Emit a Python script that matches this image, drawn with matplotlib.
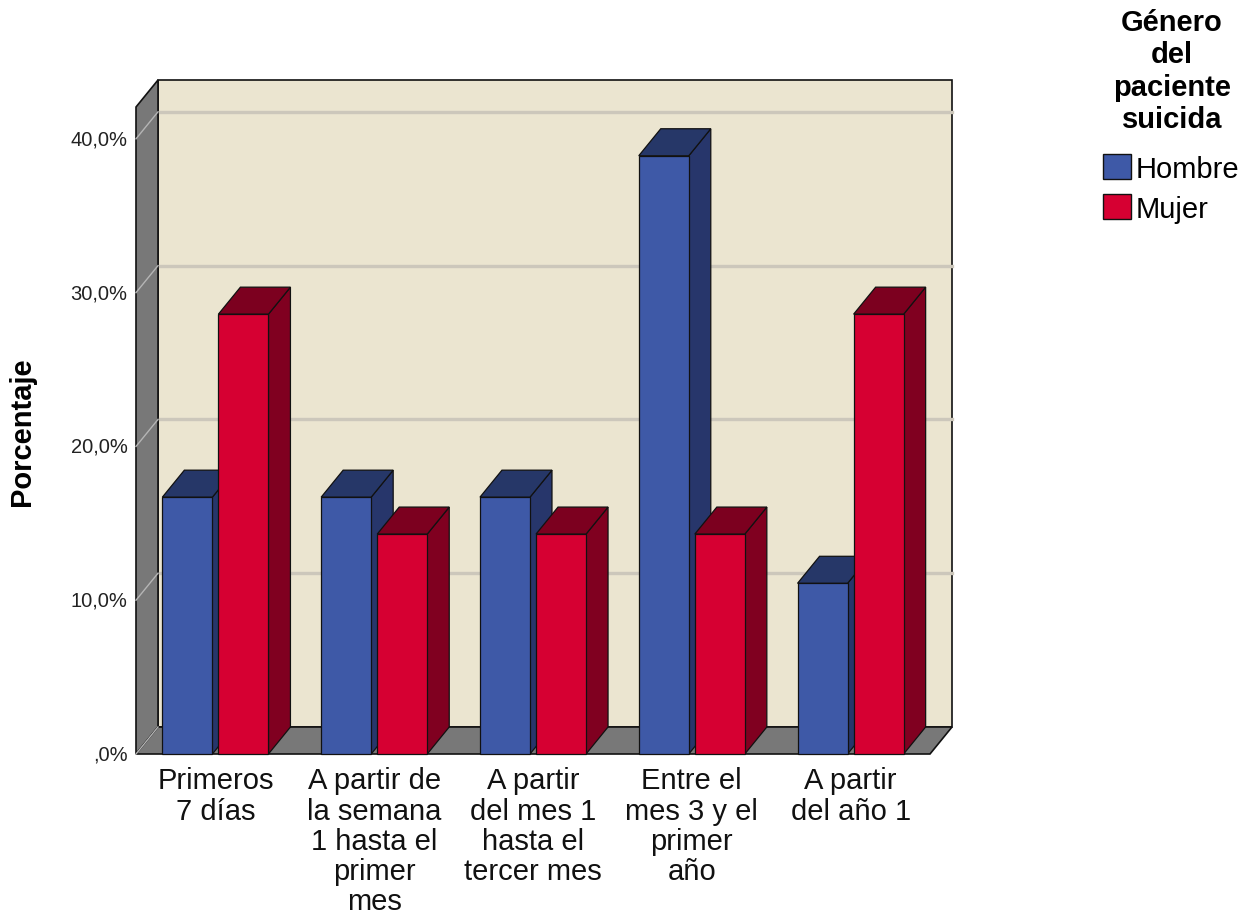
import matplotlib.pyplot as plt
from matplotlib.patches import Polygon, Patch

# data (percent within each gender)
categorias = ["Primeros\n7 días",
              "A partir de\nla semana\n1 hasta el\nprimer\nmes",
              "A partir\ndel mes 1\nhasta el\ntercer mes",
              "Entre el\nmes 3 y el\nprimer\naño",
              "A partir\ndel año 1"]
hombre = [16.7, 16.7, 16.7, 38.9, 11.1]
mujer = [28.6, 14.3, 14.3, 14.3, 28.6]
series = ["Hombre", "Mujer"]
yticks = [0, 10, 20, 30, 40]
ytick_labels = [",0%", "10,0%", "20,0%", "30,0%", "40,0%"]

# colours: front face, side face, top face
colores = {"Hombre": ("#3e59a7", "#27366b", "#263768"),
           "Mujer": ("#d60032", "#800020", "#7c001f")}

plt.rcParams['font.family'] = ['Liberation Sans', 'DejaVu Sans']

fig = plt.figure(figsize=(12.53, 9.2), dpi=100)
ax = fig.add_axes([136 / 1253, 165 / 920, 794 / 1253, 647 / 920])
ymax = 42.07
ax.set_xlim(-0.5, 4.5)
ax.set_ylim(0, ymax)
ax.axis('off')

# oblique depth in data units
dx = 22 / (794 / 5)
dy = 27 / (647 / ymax)
x0, x1 = -0.5, 4.5

# back wall
ax.add_patch(Polygon([(x0 + dx, dy), (x1 + dx, dy), (x1 + dx, ymax + dy), (x0 + dx, ymax + dy)],
                     facecolor="#ebe5d0", edgecolor="#111111", lw=1.2, zorder=1, clip_on=False))
for t in yticks[1:]:
    ax.plot([x0 + dx, x1 + dx], [t + dy, t + dy], color="#ccc7bb", lw=2.4, zorder=2, clip_on=False)

# side wall and floor
ax.add_patch(Polygon([(x0, 0), (x0 + dx, dy), (x0 + dx, ymax + dy), (x0, ymax)],
                     facecolor="#787878", edgecolor="#111111", lw=1.2, zorder=3, clip_on=False))
ax.add_patch(Polygon([(x0, 0), (x1, 0), (x1 + dx, dy), (x0 + dx, dy)],
                     facecolor="#787878", edgecolor="#111111", lw=1.2, zorder=3, clip_on=False))
for t in yticks:
    ax.plot([x0, x0 + dx], [t, t + dy], color="#b5b5b5", lw=1, zorder=4, clip_on=False)

# bars
w = 0.315
gap = 0.019
z = 5
for i in range(len(categorias)):
    for j, (nombre, vals) in enumerate(zip(series, [hombre, mujer])):
        v = vals[i]
        left = i - gap - w if j == 0 else i + gap
        front, side, top = colores[nombre]
        kw = dict(edgecolor="#111111", lw=0.9, zorder=z, clip_on=False)
        ax.add_patch(Polygon([(left + w, 0), (left + w + dx, dy), (left + w + dx, v + dy), (left + w, v)],
                             facecolor=side, **kw))
        ax.add_patch(Polygon([(left, v), (left + w, v), (left + w + dx, v + dy), (left + dx, v + dy)],
                             facecolor=top, **kw))
        ax.add_patch(Polygon([(left, 0), (left + w, 0), (left + w, v), (left, v)],
                             facecolor=front, **kw))
        z += 1

# tick labels
for t, lab in zip(yticks, ytick_labels):
    ax.annotate(lab, (x0, t), xytext=(-6, 0), textcoords='offset points',
                ha='right', va='center', fontsize=14.5, color="#222222")

for i, cat in enumerate(categorias):
    ax.annotate(cat, (i, 0), xytext=(0, -9), textcoords='offset points',
                ha='center', va='top', fontsize=21, linespacing=1.1, color="#111111")

fig.text(22 / 1253, 1 - 432 / 920, "Porcentaje", rotation=90, fontweight='bold',
         fontsize=21, ha='center', va='center')

# legend: title as its own text, entries through fig.legend
fig.text(1172 / 1253, 1 - 9 / 920, "Género\ndel\npaciente\nsuicida", fontweight='bold',
         fontsize=21, ha='center', va='top', multialignment='center', linespacing=1.2)
handles = [Patch(facecolor=colores[s][0], edgecolor="#111111") for s in series]
fig.legend(handles, series, loc='upper left',
           bbox_to_anchor=(1103 / 1253, 1 - 155 / 920), frameon=False, fontsize=21,
           handlelength=0.95, handleheight=0.95, handletextpad=0.18,
           labelspacing=0.4, borderpad=0, borderaxespad=0)

fig.savefig("out.png", dpi=100)
